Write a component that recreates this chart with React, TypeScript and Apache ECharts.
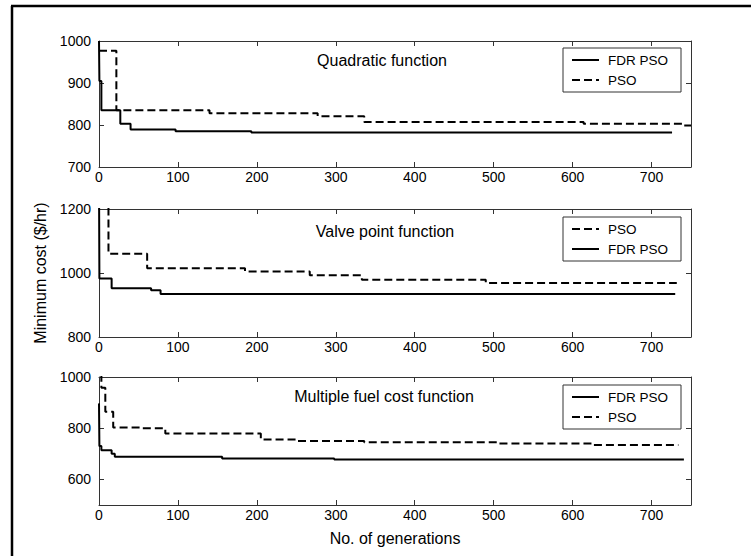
import React, { useEffect, useRef } from "react";
import * as echarts from "echarts";

// ---------- data ----------
const xTicks = [0, 100, 200, 300, 400, 500, 600, 700];

const panelTitles = ["Quadratic function", "Valve point function", "Multiple fuel cost function"];
const seriesNames = ["FDR PSO", "PSO"];
const legendOrders = [["FDR PSO", "PSO"], ["PSO", "FDR PSO"], ["FDR PSO", "PSO"]];

const yMins = [700, 800, 500];
const yMaxs = [1000, 1200, 1000];
const yTicks1 = [700, 800, 900, 1000];
const yTicks2 = [800, 1000, 1200];
const yTicks3 = [600, 800, 1000];

// Quadratic function
const quadFdrGen = [0, 0.5, 3, 27, 40, 97, 193, 726];
const quadFdrCost = [1000, 905, 835, 803, 789, 785, 782, 782];
const quadPsoGen = [0, 22, 140, 277, 336, 614, 741, 750];
const quadPsoCost = [977, 835, 828, 821, 807, 803, 799, 799];

// Valve point function
const valveFdrGen = [0, 0.5, 16, 66, 78, 730];
const valveFdrCost = [1300, 983, 952, 946, 934, 934];
const valvePsoGen = [0, 12, 61, 185, 267, 333, 490, 732];
const valvePsoCost = [1400, 1060, 1015, 1005, 993, 979, 969, 969];

// Multiple fuel cost function
const multiFdrGen = [0, 0.5, 3, 16, 20, 156, 298, 741];
const multiFdrCost = [897, 730, 714, 700, 688, 682, 678, 678];
const multiPsoGen = [2, 3, 8, 18, 55, 84, 205, 250, 336, 505, 626, 734];
const multiPsoCost = [1010, 958, 864, 803, 800, 779, 756, 750, 745, 740, 734, 734];

const FONT = "'Liberation Sans', Arial, Helvetica, sans-serif";

const zip = (a: number[], b: number[]) => a.map((v, i) => [v, b[i]]);

export default function App() {
  const ref = useRef<HTMLDivElement>(null);

  useEffect(() => {
    if (!ref.current) return;
    const chart = echarts.init(ref.current, undefined, { renderer: "svg" });

    const grids = [
      { left: 99, top: 41, width: 592, height: 126 },
      { left: 99, top: 209, width: 592, height: 128 },
      { left: 99, top: 377, width: 592, height: 128 },
    ];
    const yTickSets = [yTicks1, yTicks2, yTicks3];
    const axisColor = "#333";
    const plain = (v: number) => String(v);

    const xAxis: any[] = [];
    const yAxis: any[] = [];
    grids.forEach((_, i) => {
      const common = {
        type: "value",
        gridIndex: i,
        min: 0,
        max: 750,
        splitLine: { show: false },
        axisLine: { show: true, onZero: false, lineStyle: { color: axisColor, width: 1 } },
        axisTick: { show: true, inside: true, length: 5, customValues: xTicks, lineStyle: { color: axisColor } },
      };
      xAxis.push({
        ...common,
        position: "bottom",
        axisLabel: { show: true, customValues: xTicks, formatter: plain, margin: 3, fontSize: 14, color: "#000", fontFamily: FONT },
        ...(i === 2
          ? {
              name: "No. of generations",
              nameLocation: "middle",
              nameGap: 25,
              nameTextStyle: { fontSize: 16, color: "#000", fontFamily: FONT },
            }
          : {}),
      });
      xAxis.push({ ...common, position: "top", axisLabel: { show: false } });

      const ycommon = {
        type: "value",
        gridIndex: i,
        min: yMins[i],
        max: yMaxs[i],
        splitLine: { show: false },
        axisLine: { show: true, onZero: false, lineStyle: { color: axisColor, width: 1 } },
        axisTick: { show: true, inside: true, length: 5, customValues: yTickSets[i], lineStyle: { color: axisColor } },
      };
      yAxis.push({
        ...ycommon,
        position: "left",
        axisLabel: { show: true, customValues: yTickSets[i], formatter: plain, margin: 8, fontSize: 14, color: "#000", fontFamily: FONT },
        ...(i === 1
          ? {
              name: "Minimum cost ($/hr)",
              nameLocation: "middle",
              nameGap: 42,
              nameTextStyle: { fontSize: 16, color: "#000", fontFamily: FONT },
            }
          : {}),
      });
      yAxis.push({ ...ycommon, position: "right", axisLabel: { show: false } });
    });

    const dataSets = [
      [zip(quadFdrGen, quadFdrCost), zip(quadPsoGen, quadPsoCost)],
      [zip(valveFdrGen, valveFdrCost), zip(valvePsoGen, valvePsoCost)],
      [zip(multiFdrGen, multiFdrCost), zip(multiPsoGen, multiPsoCost)],
    ];

    const series: any[] = [];
    dataSets.forEach((pair, i) => {
      pair.forEach((data, j) => {
        series.push({
          type: "line",
          name: seriesNames[j],
          xAxisIndex: 2 * i,
          yAxisIndex: 2 * i,
          step: "end",
          symbol: "none",
          showSymbol: false,
          clip: true,
          data,
          lineStyle: { color: "#000", width: 2, type: j === 0 ? "solid" : [8, 4] },
          itemStyle: { color: "#000" },
        });
      });
    });

    const legendTops = [48, 217, 385];
    const legend = legendOrders.map((order, i) => ({
      show: true,
      orient: "vertical",
      left: 563,
      top: legendTops[i],
      data: order,
      selectedMode: false,
      itemWidth: 27,
      itemHeight: 14,
      itemGap: 6,
      padding: [5, 13, 5, 8],
      borderColor: "#333",
      borderWidth: 1,
      backgroundColor: "#fff",
      itemStyle: { opacity: 0 },
      textStyle: { fontSize: 13.5, color: "#000", fontFamily: FONT, padding: [0, 0, 0, 4] },
    }));

    const titleCenters = [382, 385, 384];
    const titleTops = [52, 223, 388];
    const title = panelTitles.map((t, i) => ({
      text: t,
      left: titleCenters[i],
      top: titleTops[i],
      textAlign: "center",
      padding: 0,
      textStyle: { fontSize: 16, fontWeight: "normal", color: "#000", fontFamily: FONT },
    }));

    chart.setOption({
      animation: false,
      backgroundColor: "#fff",
      grid: grids,
      xAxis,
      yAxis,
      series,
      legend,
      title,
      graphic: [
        { type: "line", shape: { x1: 12, y1: 6, x2: 12, y2: 556 }, style: { stroke: "#000", lineWidth: 2.5 } },
        { type: "line", shape: { x1: 11, y1: 6, x2: 751, y2: 6 }, style: { stroke: "#000", lineWidth: 2.5 } },
      ],
    });

    return () => chart.dispose();
  }, []);

  return (
    <div
      ref={ref}
      style={{ position: "fixed", left: 0, top: 0, width: 751, height: 556, background: "#fff" }}
    />
  );
}
